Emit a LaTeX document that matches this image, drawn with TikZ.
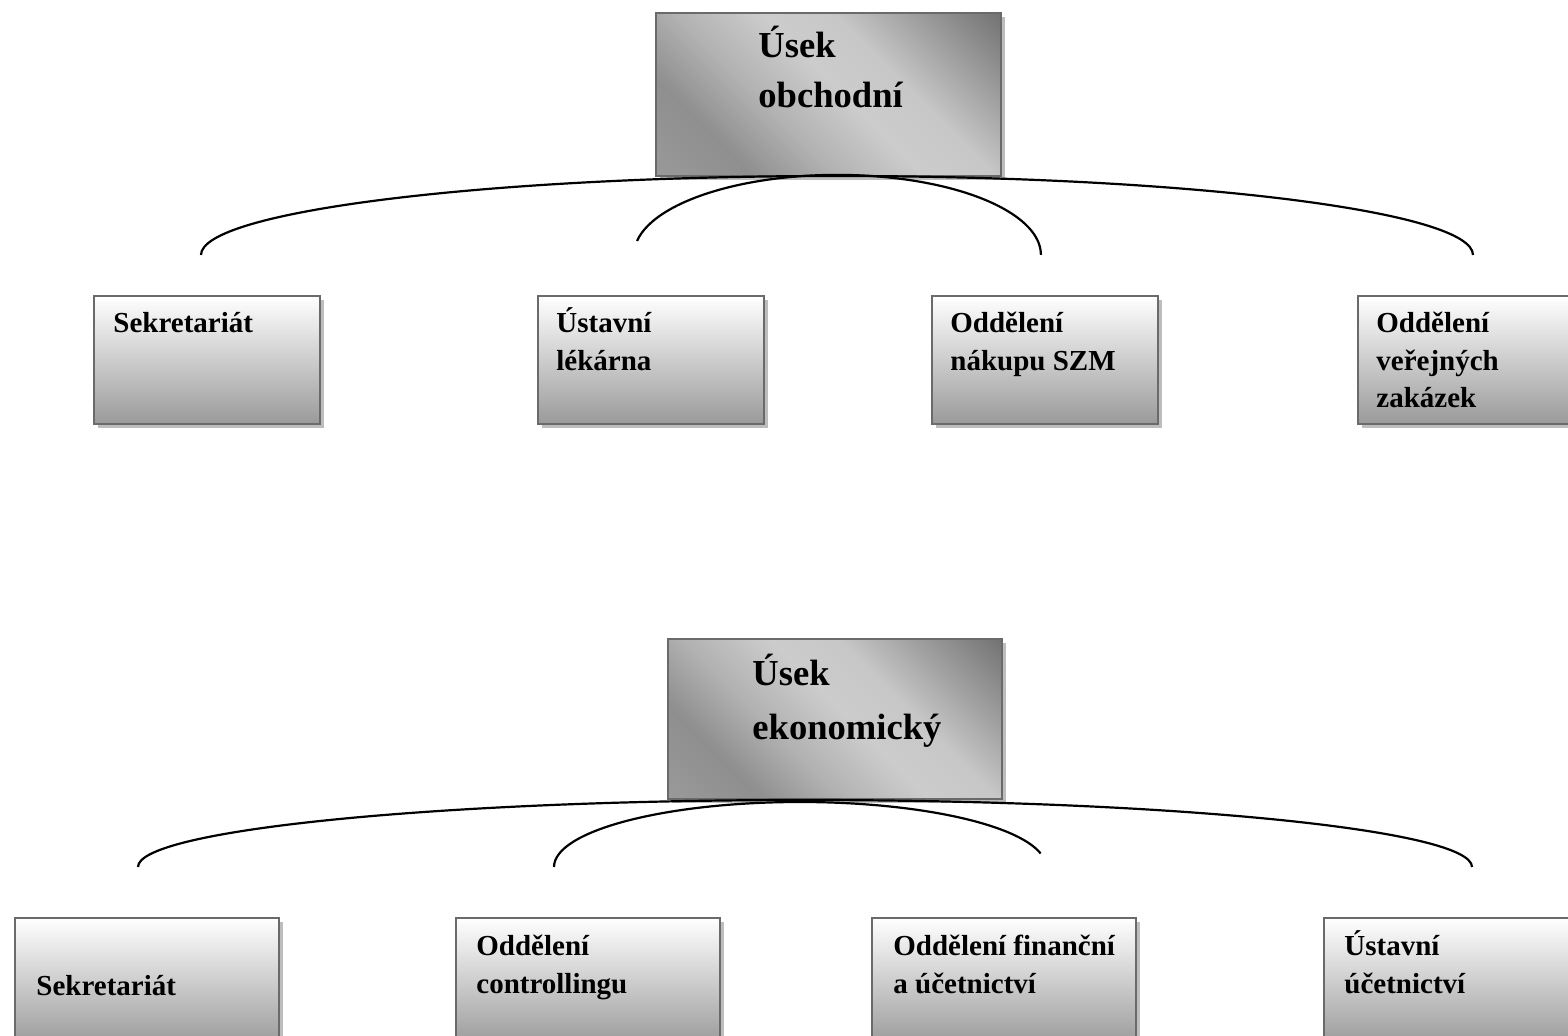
\documentclass[tikz,border=0pt]{standalone}
\usepackage{fontspec}
\setmainfont{Liberation Serif}
\usetikzlibrary{shadows}

\definecolor{boxline}{HTML}{6A6A6A}
\definecolor{boxshadow}{HTML}{BDBDBD}
\definecolor{boxbottom}{HTML}{9A9A9A}

\pgfdeclareverticalshading{headshade}{100bp}{%
  color(0bp)=(black!40); color(15bp)=(black!40); color(28bp)=(black!44);
  color(40bp)=(black!30); color(52bp)=(black!20); color(62bp)=(black!22);
  color(76bp)=(black!42); color(86bp)=(black!56); color(100bp)=(black!56)}

\tikzset{
  unitbox/.style={draw=boxline, line width=1pt, top color=white,
    bottom color=boxbottom, anchor=north west, inner sep=0pt,
    minimum width=113pt, minimum height=64pt,
    general shadow={fill=boxshadow, shadow xshift=2pt, shadow yshift=-2pt}},
  widebox/.style={unitbox, minimum width=132pt},
  headbox/.style={draw=boxline, line width=1pt, shading=headshade,
    shading angle=-45, anchor=north west, inner sep=0pt,
    general shadow={fill=boxshadow, shadow xshift=2pt, shadow yshift=-2pt}},
  unitlabel/.style={anchor=base west, inner sep=0pt, align=left,
    font=\fontsize{14.5}{18.75}\selectfont\bfseries},
  headlabel/.style={anchor=base west, inner sep=0pt, align=left,
    font=\fontsize{18.3}{25}\selectfont\bfseries},
  branch/.style={line width=1.1pt}
}

\begin{document}
\begin{tikzpicture}[x=0.5pt, y=0.5pt]

\useasboundingbox (0,0) rectangle (1568,-1036);
\clip (0,0) rectangle (1568,-1036);

%% obchodni usek (labels sit on their last line)
\node[headbox, minimum width=172.5pt, minimum height=81.5pt] (obHead) at (655,-12) {};
\node[headlabel] (obHeadT) at ([shift={(103,-96)}]obHead.north west) {Úsek\\obchodní};

\node[unitbox] (obSek) at (93,-295) {};
\node[unitbox] (obLek) at (537,-295) {};
\node[unitbox] (obNak) at (931,-295) {};
\node[unitbox] (obVz) at (1357,-295) {};

\node[unitlabel] (obSekT) at ([shift={(20,-38)}]obSek.north west) {Sekretariát};
\node[unitlabel] (obLekT) at ([shift={(19,-75.5)}]obLek.north west) {Ústavní\\lékárna};
\node[unitlabel] (obNakT) at ([shift={(19,-75.5)}]obNak.north west) {Oddělení\\nákupu SZM};
\node[unitlabel] (obVzT) at ([shift={(19,-113)}]obVz.north west) {Oddělení\\veřejných\\zakázek};

\coordinate (obOuter) at (201,-255);
\coordinate (obInner) at (637,-241);
\draw[branch] (obOuter) arc[start angle=180, end angle=0, x radius=318pt, y radius=39.5pt];
\draw[branch] (obInner) arc[start angle=170, end angle=0, x radius=101.75pt, y radius=40pt];

%% ekonomicky usek
\node[headbox, minimum width=167pt, minimum height=80pt] (ekHead) at (667,-638) {};
\node[headlabel] (ekHeadT) at ([shift={(85,-102)}]ekHead.north west) {Úsek\\[2.5pt]ekonomický};

\node[widebox] (ekSek) at (14,-917) {};
\node[widebox] (ekCon) at (455,-917) {};
\node[widebox] (ekFin) at (871,-917) {};
\node[widebox] (ekUc) at (1323,-917) {};

\node[unitlabel] (ekSekT) at ([shift={(22,-78)}]ekSek.north west) {Sekretariát};
\node[unitlabel] (ekConT) at ([shift={(21,-76)}]ekCon.north west) {Oddělení\\controllingu};
\node[unitlabel] (ekFinT) at ([shift={(22,-76)}]ekFin.north west) {Oddělení finanční\\a účetnictví};
\node[unitlabel] (ekUcT) at ([shift={(21,-76)}]ekUc.north west) {Ústavní\\účetnictví};

\coordinate (ekOuter) at (138,-867);
\coordinate (ekInner) at (554,-867);
\draw[branch] (ekOuter) arc[start angle=180, end angle=0, x radius=333.5pt, y radius=33.5pt];
\draw[branch] (ekInner) arc[start angle=180, end angle=12, x radius=123pt, y radius=32.5pt];

\end{tikzpicture}
\end{document}
